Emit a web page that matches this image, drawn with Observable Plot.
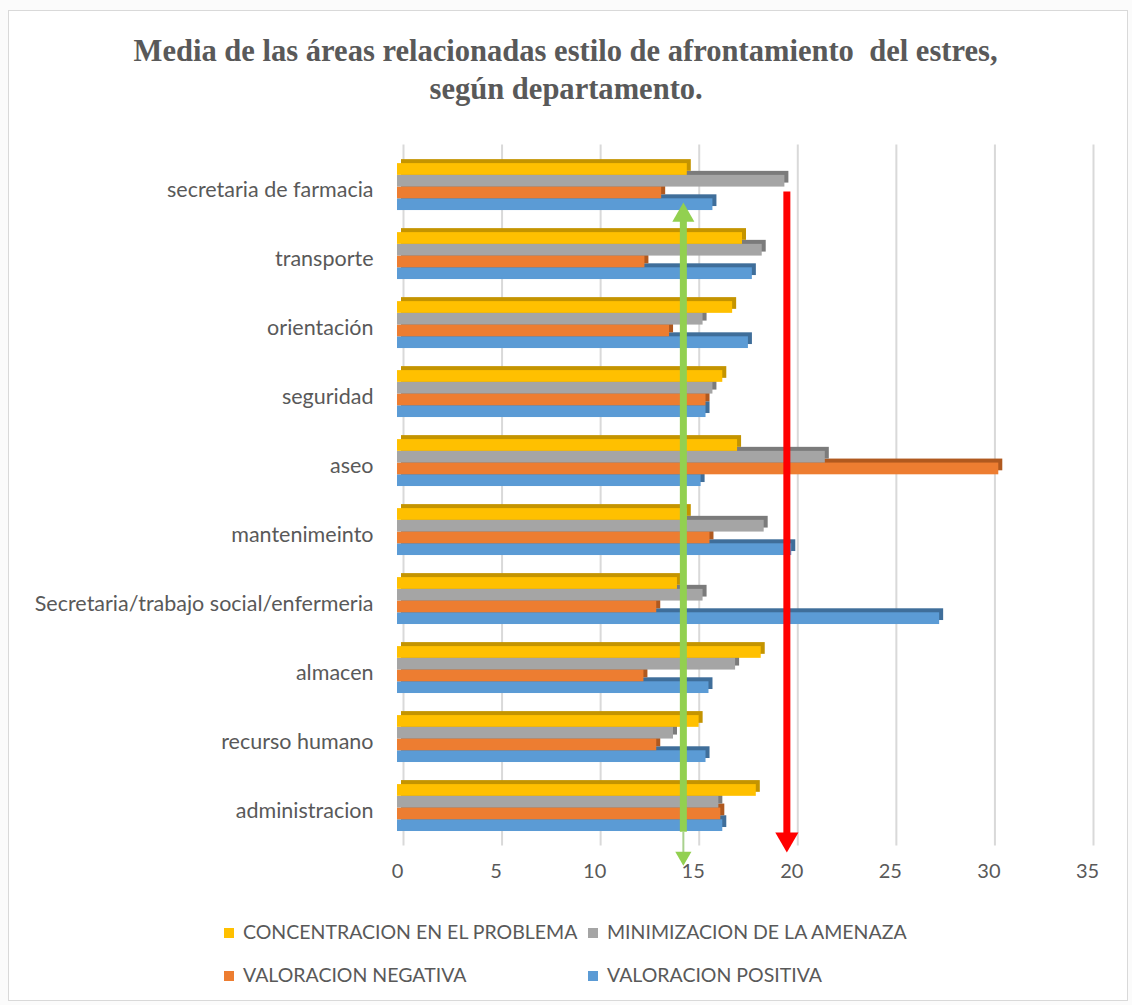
<!DOCTYPE html>
<html>
<head>
<meta charset="utf-8">
<script src="https://cdn.jsdelivr.net/npm/d3@7"></script>
<script src="https://cdn.jsdelivr.net/npm/@observablehq/plot@0.6"></script>
<style>
  body { margin: 0; background: #fbfbfb; }
  #chart { position: relative; width: 1132px; height: 1005px; }
  #frame { position: absolute; left: 8px; top: 10px; width: 1118px; height: 989px; border: 1px solid #d9d9d9; background: #fff; }
  #title { position: absolute; left: 0; top: 31px; width: 1132px; text-align: center; color: #595959;
           font-family: "Liberation Serif", serif; font-weight: bold; font-size: 32px; line-height: 38px; }
  #title span { display: inline-block; white-space: pre; transform-origin: center; }
  #plot { position: absolute; left: 0; top: 100px; }
  .leg { position: absolute; font-family: Lato, sans-serif; font-size: 19.5px; color: #595959; white-space: nowrap; line-height: 22px; }
  .leg i { display: inline-block; width: 10px; height: 10px; margin-right: 9px; vertical-align: 1px; }
</style>
</head>
<body>
<div id="chart">
  <div id="frame"></div>
  <div id="title"><span id="t1">Media de las áreas relacionadas estilo de afrontamiento  del estres,</span><br><span id="t2">según departamento.</span></div>
  <div id="plot"></div>
  <div id="legend"></div>
</div>
<script>
// ---- data ----
const departments = [
  "secretaria de farmacia", "transporte", "orientación", "seguridad", "aseo",
  "mantenimeinto", "Secretaria/trabajo social/enfermeria", "almacen", "recurso humano", "administracion"
];
const seriesNames = ["CONCENTRACION EN EL PROBLEMA", "MINIMIZACION DE LA AMENAZA", "VALORACION NEGATIVA", "VALORACION POSITIVA"];
const concentracion = [14.7, 17.5, 17.0, 16.5, 17.25, 14.7, 14.2, 18.45, 15.3, 18.2];
const minimizacion  = [19.65, 18.5, 15.5, 16.0, 21.7, 18.6, 15.5, 17.15, 14.0, 16.3];
const valNegativa   = [13.4, 12.55, 13.8, 15.65, 30.5, 15.85, 13.15, 12.5, 13.15, 16.4];
const valPositiva   = [16.0, 18.0, 17.8, 15.65, 15.4, 20.0, 27.5, 15.8, 15.65, 16.5];
const xTicks = [0, 5, 10, 15, 20, 25, 30, 35];

const faceColors = ["#FFC000", "#A5A5A5", "#ED7D31", "#5B9BD5"];
const sideColors = ["#C49400", "#7B7B7B", "#B0591F", "#3F6E9A"];

// annotation arrows (x in data units, y in department-band units)
const redArrow   = { x: 19.75, from: 0.52, to: 9.9 };
const greenArrow = { x: 14.5, from: 0.86, to: 9.8, tipTo: 10.15 };

// ---- build table ----
const seriesValues = [concentracion, minimizacion, valNegativa, valPositiva];
const rows = [];
seriesValues.forEach((vals, j) => vals.forEach((v, i) => {
  const y1 = i + 0.11 + j * 0.17;
  rows.push({ dept: departments[i], series: seriesNames[j], j, value: v, y1, y2: y1 + 0.17 });
}));

const barMarks = [];
for (let j = 3; j >= 0; j--) {
  const d = rows.filter(r => r.j === j);
  barMarks.push(Plot.rect(d, { x1: 0, x2: "value", y1: "y1", y2: "y2", fill: sideColors[j], dx: 4, dy: -4 }));
  barMarks.push(Plot.rect(d, { x1: 0, x2: "value", y1: "y1", y2: "y2", fill: faceColors[j] }));
}

const chart = Plot.plot({
  width: 1132,
  height: 800,
  marginLeft: 397,
  marginRight: 45,
  marginTop: 44.5,
  marginBottom: 54.5,
  style: { fontFamily: "Lato, sans-serif", fontSize: "20px", color: "#595959", background: "transparent", overflow: "visible" },
  x: { domain: [0, 35], ticks: xTicks, tickSize: 0, tickPadding: 18, label: null },
  y: { domain: [-0.16, 10], reverse: true, ticks: departments.map((d, i) => i + 0.5),
       tickFormat: v => departments[Math.floor(v)], tickSize: 0, tickPadding: 24, label: null },
  marks: [
    Plot.ruleX(xTicks, { stroke: "#d9d9d9", strokeWidth: 2, dx: 6 }),
    ...barMarks,
    // red arrow
    Plot.ruleX([redArrow], { x: "x", y1: "from", y2: "to", stroke: "#FF0000", strokeWidth: 7 }),
    Plot.dot([redArrow], { x: "x", y: "to", fill: "#FF0000", r: 8.6, symbol: "triangle", rotate: 180 }),
    // green double arrow
    Plot.ruleX([greenArrow], { x: "x", y1: "from", y2: "to", stroke: "#92D050", strokeWidth: 7 }),
    Plot.ruleX([greenArrow], { x: "x", y1: "to", y2: "tipTo", stroke: "#A9D18E", strokeWidth: 2 }),
    Plot.dot([greenArrow], { x: "x", y: "from", fill: "#92D050", r: 8.2, symbol: "triangle", rotate: 0 }),
    Plot.dot([greenArrow], { x: "x", y: "tipTo", fill: "#92D050", r: 6.0, symbol: "triangle", rotate: 180 })
  ]
});
document.getElementById("plot").appendChild(chart);
d3.select(chart).selectAll('[aria-label^="y-axis"] text').style("font-size", "21.5px");

// legend
const leg = document.getElementById("legend");
const legPos = [[224, 921], [588, 921], [224, 964], [588, 964]];
seriesNames.forEach((s, j) => {
  const el = document.createElement("div");
  el.className = "leg";
  el.style.left = legPos[j][0] + "px";
  el.style.top = legPos[j][1] + "px";
  el.innerHTML = `<i style="background:${faceColors[j]}"></i>${s}`;
  leg.appendChild(el);
});

// fit title line width
const t1 = document.getElementById("t1"), t2 = document.getElementById("t2");
const s = 864 / t1.getBoundingClientRect().width;
t1.style.transform = `scaleX(${s})`;
t2.style.transform = `scaleX(${s})`;
</script>
</body>
</html>
